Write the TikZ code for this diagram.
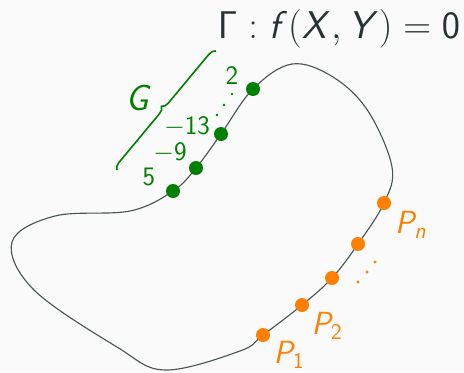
\RequirePackage{fix-cm}
\documentclass[tikz,border=0pt]{standalone}
\usetikzlibrary{decorations.pathreplacing}
\DeclareMathAlphabet{\mathsfit}{OT1}{cmss}{m}{sl}
\definecolor{ink}{HTML}{263333}
\definecolor{curvegray}{HTML}{4A5555}
\definecolor{ptgreen}{rgb}{0,0.5,0}
\definecolor{ptorange}{rgb}{1,0.5,0}
\definecolor{paper}{HTML}{FAFAFA}
\tikzset{
  gdot/.style={circle, fill=ptgreen, inner sep=0pt, minimum size=10.5pt},
  odot/.style={circle, fill=ptorange, inner sep=0pt, minimum size=10.5pt},
  glabel/.style={text=ptgreen, font=\fontsize{20}{24}\selectfont, inner sep=0pt},
  olabel/.style={text=ptorange, font=\fontsize{24}{28}\selectfont, inner sep=0pt},
  curve/.style={draw=curvegray, line width=0.85pt},
  brace/.style={decorate, decoration={brace, amplitude=5pt}, draw=ptgreen, line width=1.2pt}
}

\begin{document}
\begin{tikzpicture}[x=0.75pt, y=-0.75pt]
  \fill[paper] (0,0) rectangle (464,372);
  \useasboundingbox (0,0) rectangle (464,372);

  % where the points sit
  \coordinate (cg1) at (173,191);
  \coordinate (cg2) at (196,168);
  \coordinate (cg3) at (221,134);
  \coordinate (cg4) at (253,89);
  \coordinate (cp1) at (263,335);
  \coordinate (cp2) at (302,305);
  \coordinate (cp3) at (332,278);
  \coordinate (cp4) at (358,244);
  \coordinate (cpn) at (384,203);

  % the curve
  \draw[curve] plot[smooth cycle, tension=0.6] coordinates {
    (292,64) (cg4) (cg3) (cg2) (cg1) (130,211) (55,216)
    (12,242) (34,290) (117,347) (165,370) (240,351) (cp1) (cp2)
    (cp3) (cp4) (cpn) (392,167) (368,111) (333,77)};

  % points of G and points P
  \foreach \n in {1,...,4} \node[gdot] (g\n) at (cg\n) {};
  \foreach \n in {1,2,3,4,n} \node[odot] (p\n) at (cp\n) {};

  % labels
  \node[text=ink, font=\fontsize{29}{34}\selectfont] (title) at (339,29)
    {$\mathsf{\Gamma} : \mathsfit{f}(\mathsfit{X}, \mathsfit{Y}) = \mathsf{0}$};
  \node[glabel] (l4) at (232,76) {$\mathsf{2}$};
  \node[glabel] (l3) at (187,127) {$-\mathsf{13}$};
  \node[glabel] (l2) at (170,153) {$-\mathsf{9}$};
  \node[glabel] (l1) at (149,177) {$\mathsf{5}$};
  \node[olabel] (lp1) at (289,355) {$\mathsfit{P}_{\mathsf{1}}$};
  \node[olabel] (lp2) at (327,326) {$\mathsfit{P}_{\mathsf{2}}$};
  \node[olabel] (lpn) at (411,225) {$\mathsfit{P}_{\mathsfit{n}}$};
  \foreach \x/\y in {232/94, 224/105, 217/115} \fill[ptgreen] (\x,\y) circle (1.1pt);
  \foreach \x/\y in {358/282, 367/272, 375/262} \fill[ptorange] (\x,\y) circle (1.2pt);

  % the set G
  \coordinate (gb) at (117,170);
  \coordinate (gt) at (216,51);
  \draw[brace] (gb) -- (gt);
  \node[text=ptgreen, font=\fontsize{27}{32}\selectfont] (G) at (139,98) {$\mathsfit{G}$};
\end{tikzpicture}
\end{document}
